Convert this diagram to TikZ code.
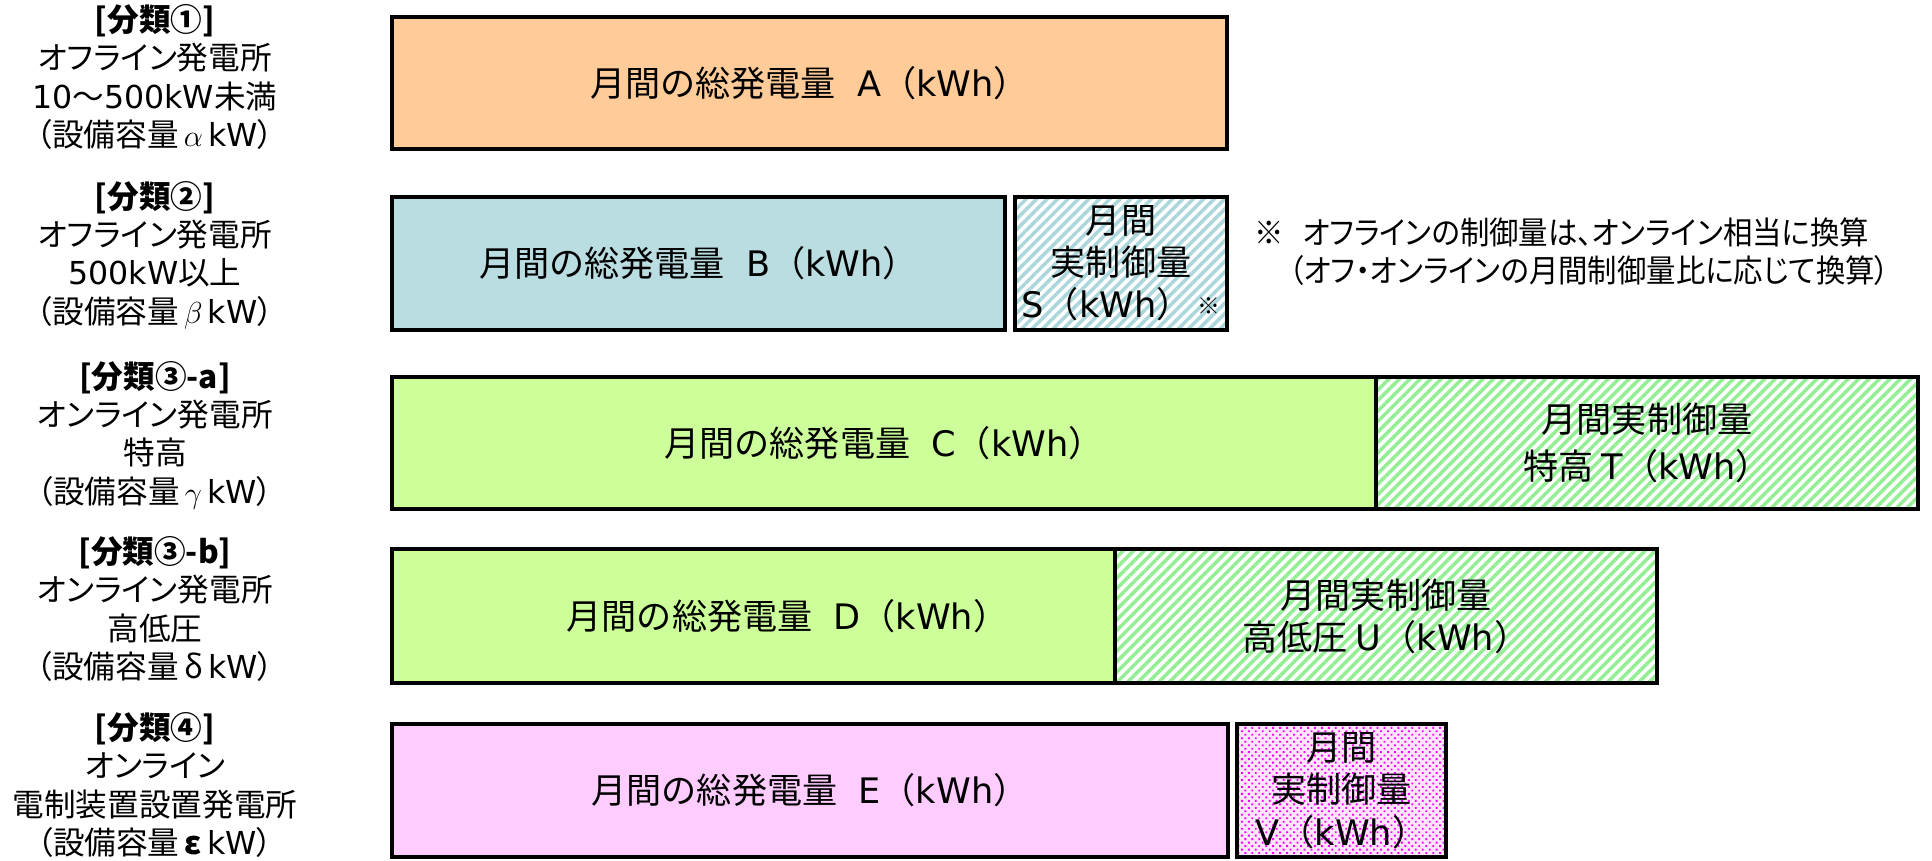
\documentclass[tikz,border=0pt]{standalone}
\usepackage{fontspec}
\setmainfont{Noto Sans CJK JP}
\newfontfamily\propfont{Noto Sans CJK JP}[RawFeature=+palt]
\newfontfamily\notefont{Noto Sans CJK JP}[RawFeature=+palt, FakeStretch=0.93]
\newfontfamily\latfont{DejaVu Sans}
\newcommand\latn[1]{{\latfont #1}}
\usetikzlibrary{patterns.meta}

\definecolor{peach}{HTML}{FFCC99}
\definecolor{paleblue}{HTML}{B9DDE1}
\definecolor{stripeblue}{HTML}{ABD6DC}
\definecolor{lime}{HTML}{CCFF99}
\definecolor{stripegreen}{HTML}{94EE94}
\definecolor{pink}{HTML}{FFCCFF}
\definecolor{palepink}{HTML}{FFE6FF}

\begin{document}
\begin{tikzpicture}[
  x=0.02cm, y=-0.02cm,
  size/.style 2 args={minimum width=#1*0.02cm, minimum height=#2*0.02cm},
  cls/.style={align=center, font=\propfont\fontsize{18}{21.8}\selectfont},
  boxtext/.style={align=center, font=\fontsize{20}{24}\selectfont},
  total/.style={boxtext, draw, line width=2.6pt, inner sep=0pt},
  stripes/.style={preaction={fill=white}, pattern={Lines[angle=45, distance=4.2pt, line width=2pt]}, pattern color=#1},
  speckle/.style={preaction={fill=palepink}, pattern={Dots[angle=45, distance=2.8pt, radius=0.75pt]}, pattern color=#1},
  notetext/.style={align=left, font=\notefont\fontsize{18}{22}\selectfont}
]
\useasboundingbox (0,0) rectangle (1932,860);

% Left column - classes of power plants
\node[cls] (cls1) at (155,77) {\textbf{[分類①]}\\オフライン発電所\\\latn{10}～\latn{500kW}未満\\（設備容量\,$\alpha$\,\latn{kW}）};
\node[cls] (cls2) at (155,255) {\textbf{[分類②]}\\オフライン発電所\\\latn{500kW}以上\\（設備容量\,$\beta$\,\latn{kW}）};
\node[cls] (cls3a) at (155,435) {\textbf{[分類③-a]}\\オンライン発電所\\特高\\（設備容量\,$\gamma$\,\latn{kW}）};
\node[cls] (cls3b) at (155,609) {\textbf{[分類③-b]}\\オンライン発電所\\高低圧\\（設備容量\,δ\,\latn{kW}）};
\node[cls] (cls4) at (155,785) {\textbf{[分類④]}\\オンライン\\電制装置設置発電所\\（設備容量\,\textbf{ε}\,\latn{kW}）};

% Row 1 - offline, 10 to 500kW
\node[total, fill=peach, size={835}{132}] (totalA) at (809.5,83) {月間の総発電量\hspace{0.6em}\latn{A}（\latn{kWh}）};

% Row 2 - offline, 500kW and over
\node[total, fill=paleblue, size={613}{133}] (totalB) at (698.5,263.5) {月間の総発電量\hspace{0.6em}\latn{B}（\latn{kWh}）};
\node[total, stripes=stripeblue, size={212}{133}] (ctrlS) at (1121,263.5) {月間\\実制御量\\\latn{S}（\latn{kWh}）\,\raisebox{2pt}{\fontsize{13}{13}\selectfont ※}};

% Row 3 - online, extra high voltage
\node[total, fill=lime, size={984}{132}] (totalC) at (884,443) {月間の総発電量\hspace{0.6em}\latn{C}（\latn{kWh}）};
\node[total, stripes=stripegreen, size={542}{132}] (ctrlT) at (1647,443) {月間実制御量\\[2.7pt]特高\ \latn{T}（\latn{kWh}）};

% Row 4 - online, high and low voltage
\node[total, fill=lime, size={723}{134}] (totalD) at (753.5,616) {};
\node[boxtext] (totalDtext) at ([xshift=0.68cm]totalD.center) {月間の総発電量\hspace{0.6em}\latn{D}（\latn{kWh}）};
\node[total, stripes=stripegreen, size={542}{134}] (ctrlU) at (1386,616) {月間実制御量\\高低圧\ \latn{U}（\latn{kWh}）};

% Row 5 - online with power limiting device
\node[total, fill=pink, size={836}{133}] (totalE) at (810,790.5) {月間の総発電量\hspace{0.6em}\latn{E}（\latn{kWh}）};
\node[total, speckle=magenta, size={209}{133}] (ctrlV) at (1341.5,790.5) {月間\\実制御量\\\latn{V}（\latn{kWh}）};

% Note on offline control amount
\node[notetext, anchor=west] (note) at (1248,251.5) {※\hspace{0.6em}オフラインの制御量は、オンライン相当に換算\\\hspace{1.1em}（オフ・オンラインの月間制御量比に応じて換算）};

\end{tikzpicture}
\end{document}
